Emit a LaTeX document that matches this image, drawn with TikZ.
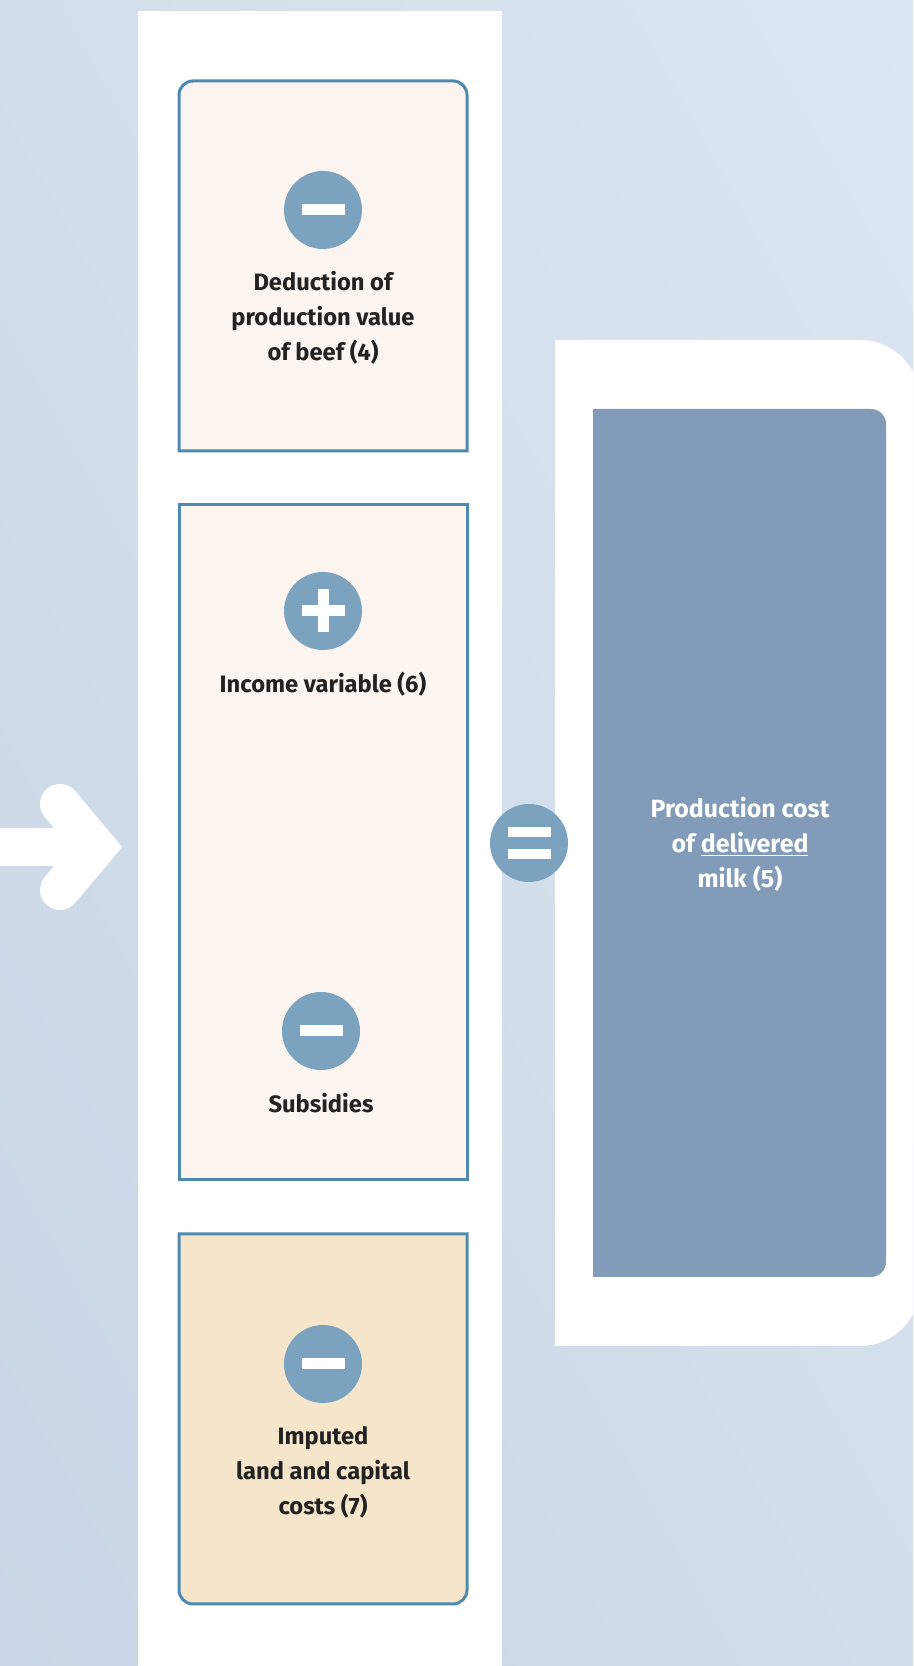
\documentclass[tikz,border=0pt]{standalone}
\usepackage{fontspec}
\setmainfont{Fira Sans}
\usetikzlibrary{positioning, shadings}

\definecolor{bglight}{RGB}{220,230,241}
\definecolor{bgmid}{RGB}{211,222,235}
\definecolor{bgdark}{RGB}{201,214,229}
\definecolor{edgeblue}{RGB}{78,138,176}
\definecolor{peach}{RGB}{252,244,239}
\definecolor{sand}{RGB}{245,230,203}
\definecolor{signblue}{RGB}{123,162,190}
\definecolor{costblue}{RGB}{130,155,185}
\definecolor{inktext}{RGB}{34,34,34}

\begin{document}
\begin{tikzpicture}[
    x=0.02cm, y=0.02cm,
    sign/.style={circle, fill=signblue, minimum size=1.56cm, inner sep=0pt},
    caption/.style={align=center, text=inktext, inner sep=0pt, font=\fontsize{13.5}{19.9}\selectfont\bfseries},
    stepbox/.style={draw=edgeblue, line width=0.06cm},
    arrowpart/.style={white, line cap=round, line join=miter}
]
    \useasboundingbox (0,0) rectangle (913,1666);
    \clip (0,0) rectangle (913,1666);
    \shade[upper left=bgmid, upper right=bglight, lower left=bgdark, lower right=bgmid] (0,0) rectangle (913,1666);

    % incoming arrow
    \draw[white, line width=0.76cm] (0,819) -- (90,819);
    \draw[arrowpart, line width=0.8cm] (60,862) -- (96,819) -- (60,776);

    % column with the three boxes
    \fill[white] (138,0) rectangle (502,1655);
    \filldraw[stepbox, fill=peach] (179,1215) -- (179,1571) arc[start angle=180, end angle=90, radius=14]
        -- (453,1585) arc[start angle=90, end angle=0, radius=14] -- (467,1215) -- cycle;
    \filldraw[stepbox, fill=peach] (179,486) rectangle (467,1161);
    \filldraw[stepbox, fill=sand] (179,432) -- (179,76) arc[start angle=180, end angle=270, radius=14]
        -- (453,62) arc[start angle=270, end angle=360, radius=14] -- (467,432) -- cycle;

    % result panel
    \fill[white] (555,320) -- (555,1326) -- (860,1326) arc[start angle=90, end angle=0, radius=60]
        -- (920,380) arc[start angle=0, end angle=-90, radius=60] -- cycle;
    \fill[costblue] (593,389) -- (593,1257) -- (871,1257) arc[start angle=90, end angle=0, radius=15]
        -- (886,404) arc[start angle=0, end angle=-90, radius=15] -- cycle;

    % signs
    \node[sign] (minusBeef) at (323,1456) {};
    \node[sign] (plusIncome) at (323,1055) {};
    \node[sign] (minusSubsidy) at (321,635) {};
    \node[sign] (minusImputed) at (323,302) {};
    \node[sign] (equalsCost) at (529,823) {};
    \foreach \s in {minusBeef, plusIncome, minusSubsidy, minusImputed}
        \fill[white] ([shift={(-0.43cm,-0.11cm)}]\s.center) rectangle ++(0.86cm,0.22cm);
    \fill[white] ([shift={(-0.11cm,-0.43cm)}]plusIncome.center) rectangle ++(0.22cm,0.86cm);
    \foreach \dy in {-0.32cm, 0.12cm}
        \fill[white] ([shift={(-0.43cm,\dy)}]equalsCost.center) rectangle ++(0.86cm,0.2cm);

    % texts
    \node[caption] (beefText) at (323,1348) {Deduction of\\production value\\of beef (4)};
    \node[caption] (incomeText) at (323,982) {Income variable (6)};
    \node[caption] (subsidyText) at (321,563) {Subsidies};
    \node[caption] (imputedText) at (323,194) {Imputed\\land and capital\\costs (7)};
    \node[caption, text=white, font=\fontsize{14.2}{19.9}\selectfont\bfseries] (costText) at (740,822) {Production cost\\of \underline{delivered}\\milk (5)};
\end{tikzpicture}
\end{document}
